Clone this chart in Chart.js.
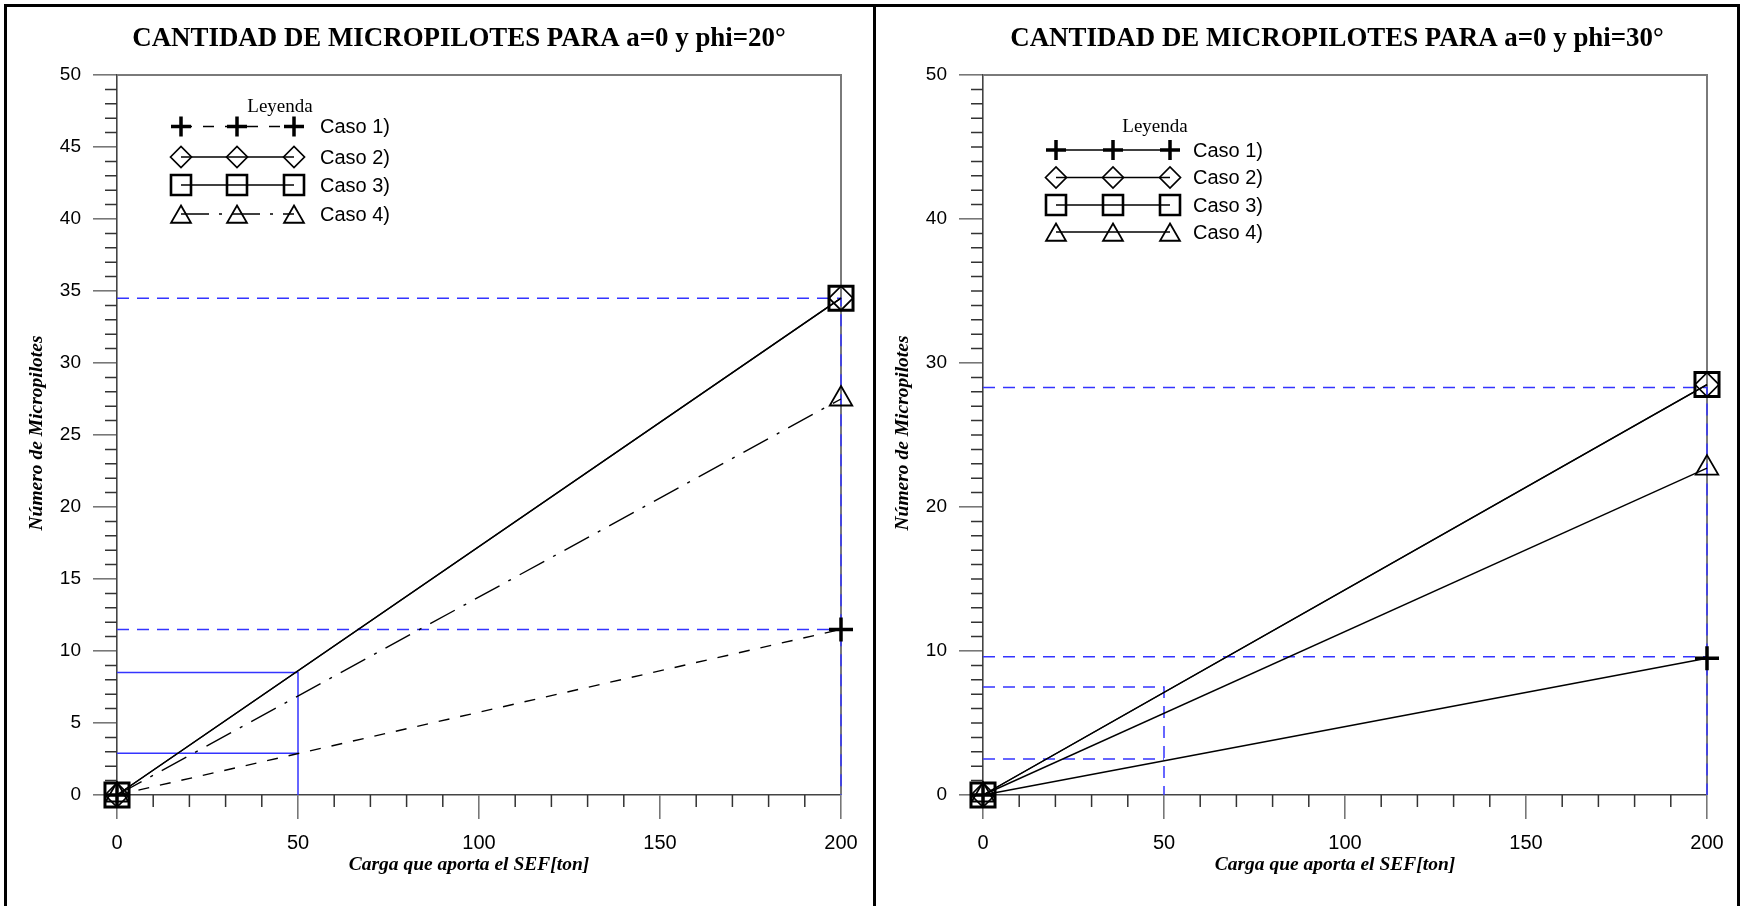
<!DOCTYPE html>
<html lang="es">
<head>
<meta charset="utf-8">
<title>Cantidad de micropilotes</title>
<script src="https://cdn.jsdelivr.net/npm/chart.js@4.4.1/dist/chart.umd.min.js"></script>
<style>
  html, body { margin: 0; padding: 0; background: #fff; width: 1741px; height: 906px; overflow: hidden; }
  .marco { position: absolute; top: 4px; height: 902px; box-sizing: border-box;
           border: 3px solid #000; border-bottom: none; }
  #marco20 { left: 4px; width: 872px; }
  #marco30 { left: 873px; width: 867px; }
  canvas { position: absolute; top: 0; }
  #c20 { left: 0; }
  #c30 { left: 875px; }
</style>
</head>
<body>
<div class="marco" id="marco20"></div>
<div class="marco" id="marco30"></div>
<canvas id="c20" width="875" height="906"></canvas>
<canvas id="c30" width="866" height="906"></canvas>
<script>
// Carga que aporta el SEF [ton]
const carga = [0, 200];

// Número de micropilotes, a=0 y phi=20°
const phi20Caso1 = [0, 11.5];
const phi20Caso2 = [0, 34.5];
const phi20Caso3 = [0, 34.5];
const phi20Caso4 = [0, 27.5];

// Número de micropilotes, a=0 y phi=30°
const phi30Caso1 = [0, 9.5];
const phi30Caso2 = [0, 28.5];
const phi30Caso3 = [0, 28.5];
const phi30Caso4 = [0, 22.7];

// Líneas de lectura (azul): niveles leídos a carga total y a carga parcial
const cargaTotal = 200;
const cargaParcial = 50;
const phi20NivelesTotal = [34.5, 11.5];
const phi20NivelesParcial = [8.5, 2.9];
const phi30NivelesTotal = [28.3, 9.6];
const phi30NivelesParcial = [7.5, 2.5];

// Marcas de los ejes
const ticksCarga = [0, 50, 100, 150, 200];
const ticksPhi20 = [0, 5, 10, 15, 20, 25, 30, 35, 40, 45, 50];
const ticksPhi30 = [0, 10, 20, 30, 40, 50];

const casos = ['Caso 1)', 'Caso 2)', 'Caso 3)', 'Caso 4)'];
const titulo20 = 'CANTIDAD DE MICROPILOTES PARA a=0 y phi=20°';
const titulo30 = 'CANTIDAD DE MICROPILOTES PARA a=0 y phi=30°';
const tituloX = 'Carga que aporta el SEF[ton]';
const tituloY = 'Número de Micropilotes';

const AZUL = '#3434ff';
const SANS = '"Liberation Sans", Arial, sans-serif';
const SERIF = '"Liberation Serif", "Times New Roman", serif';

// Símbolo de cada caso: estilo de punto, radio y grosor en el gráfico y en la leyenda
const simbolos = [
  { estilo: 'cross',    r: 12, ancho: 3.5, rLey: 10,   anchoLey: 3.5, dyLey: 0 },
  { estilo: 'rectRot',  r: 12, ancho: 1.7, rLey: 10.5, anchoLey: 1.7, dyLey: 0 },
  { estilo: 'rect',     r: 17, ancho: 3.0, rLey: 10,   anchoLey: 2.6, dyLey: 0 },
  { estilo: 'triangle', r: 13, ancho: 1.8, rLey: 11.5, anchoLey: 1.8, dyLey: 3 }
];

function puntos(xs, ys) {
  return xs.map((x, i) => ({ x: x, y: ys[i] }));
}

function series(valores, trazos) {
  return valores.map((ys, i) => ({
    label: casos[i],
    data: puntos(carga, ys),
    showLine: true,
    borderColor: '#000',
    borderWidth: 1.4,
    borderDash: trazos[i],
    pointStyle: simbolos[i].estilo,
    pointRadius: simbolos[i].r,
    pointHoverRadius: simbolos[i].r,
    pointBorderWidth: simbolos[i].ancho,
    pointBorderColor: '#000',
    pointBackgroundColor: 'rgba(0,0,0,0)',
    clip: false,
    order: 0
  }));
}

function guias(niveles, hasta, trazo) {
  return niveles.map((v, i) => ({
    label: 'guia',
    data: i === 0
      ? [{ x: 0, y: v }, { x: hasta, y: v }, { x: hasta, y: 0 }]
      : [{ x: 0, y: v }, { x: hasta, y: v }],
    showLine: true,
    borderColor: AZUL,
    borderWidth: 1.5,
    borderDash: trazo,
    pointRadius: 0,
    pointHoverRadius: 0,
    clip: false,
    order: 1
  }));
}

function marcador(ctx, estilo, x, y, r, ancho) {
  ctx.save();
  ctx.setLineDash([]);
  ctx.strokeStyle = '#000';
  ctx.lineWidth = ancho;
  ctx.beginPath();
  if (estilo === 'cross') {
    ctx.moveTo(x - r, y); ctx.lineTo(x + r, y);
    ctx.moveTo(x, y - r); ctx.lineTo(x, y + r);
  } else if (estilo === 'rectRot') {
    ctx.moveTo(x - r, y); ctx.lineTo(x, y - r); ctx.lineTo(x + r, y); ctx.lineTo(x, y + r); ctx.closePath();
  } else if (estilo === 'rect') {
    ctx.rect(x - r, y - r, 2 * r, 2 * r);
  } else if (estilo === 'triangle') {
    ctx.moveTo(x, y - r); ctx.lineTo(x + r * 0.866, y + r / 2); ctx.lineTo(x - r * 0.866, y + r / 2); ctx.closePath();
  }
  ctx.stroke();
  ctx.restore();
}

// Marco del área, marcas menores, títulos y leyenda
const decoracion = {
  id: 'decoracion',
  beforeDatasetsDraw(chart, args, o) {
    const { ctx, chartArea: a, scales: { x, y } } = chart;
    ctx.save();
    ctx.strokeStyle = '#333';
    ctx.lineWidth = 1.5;
    ctx.beginPath();
    for (let k = 0; k * o.menorY <= y.max; k++) {
      const v = k * o.menorY;
      if (v % o.mayorY === 0) continue;
      const py = y.getPixelForValue(v);
      ctx.moveTo(a.left - 12, py); ctx.lineTo(a.left, py);
    }
    for (let k = 0; k * o.menorX <= x.max; k++) {
      const v = k * o.menorX;
      if (v % o.mayorX === 0) continue;
      const px = x.getPixelForValue(v);
      ctx.moveTo(px, a.bottom); ctx.lineTo(px, a.bottom + 12);
    }
    ctx.stroke();
    ctx.strokeStyle = '#7a7a7a';
    ctx.lineWidth = 2;
    ctx.beginPath();
    ctx.moveTo(a.left, a.top); ctx.lineTo(a.right, a.top); ctx.lineTo(a.right, a.bottom);
    ctx.stroke();
    ctx.restore();
  },
  afterDraw(chart, args, o) {
    const { ctx, chartArea: a } = chart;
    ctx.save();
    ctx.fillStyle = '#000';
    ctx.textAlign = 'center';
    ctx.textBaseline = 'alphabetic';
    ctx.font = 'bold 26.9px ' + SERIF;
    ctx.fillText(o.titulo, o.tituloX, 46);

    ctx.textBaseline = 'middle';
    ctx.font = 'italic bold 19.5px ' + SERIF;
    ctx.fillText(tituloX, (a.left + a.right) / 2 - 10, 865);
    ctx.save();
    ctx.translate(o.tituloYX, (a.top + a.bottom) / 2 - 2);
    ctx.rotate(-Math.PI / 2);
    ctx.fillText(tituloY, 0, 0);
    ctx.restore();

    const L = o.leyenda;
    ctx.font = '19px ' + SERIF;
    ctx.fillText('Leyenda', L.centro, L.yTitulo);
    ctx.textAlign = 'left';
    ctx.font = '20px ' + SANS;
    const ds = chart.data.datasets.filter(d => d.label !== 'guia');
    ds.forEach((d, i) => {
      const yy = L.filas[i];
      ctx.save();
      ctx.strokeStyle = '#000';
      ctx.lineWidth = 1.3;
      ctx.setLineDash(d.borderDash || []);
      ctx.beginPath();
      ctx.moveTo(L.xs[0], yy);
      ctx.lineTo(L.xs[L.xs.length - 1], yy);
      ctx.stroke();
      ctx.restore();
      const s = simbolos[i];
      L.xs.forEach(px => marcador(ctx, s.estilo, px, yy + s.dyLey, s.rLey, s.anchoLey));
      ctx.fillText(d.label, L.texto, yy + 1);
    });
    ctx.restore();
  }
};

function grafico(id, cfg) {
  const canvas = document.getElementById(id);
  const W = canvas.width;
  return new Chart(canvas, {
    type: 'scatter',
    data: { datasets: cfg.datasets },
    plugins: [decoracion],
    options: {
      responsive: false,
      animation: false,
      events: [],
      layout: { padding: { left: 0, top: 75, right: W - cfg.derecha, bottom: 0 } },
      plugins: {
        legend: { display: false },
        tooltip: { enabled: false },
        title: { display: false },
        decoracion: {
          titulo: cfg.titulo, tituloX: cfg.tituloX, tituloYX: cfg.tituloYX,
          menorX: 10, mayorX: 50, menorY: 1, mayorY: cfg.mayorY,
          leyenda: cfg.leyenda
        }
      },
      scales: {
        x: {
          type: 'linear', min: 0, max: 200,
          afterBuildTicks: s => { s.ticks = ticksCarga.map(v => ({ value: v })); },
          afterFit: s => { s.height = 111; },
          ticks: { color: '#000', font: { family: SANS, size: 20 }, padding: 12, maxRotation: 0 },
          grid: { drawOnChartArea: false, drawTicks: true, tickLength: 24, color: '#777', lineWidth: 1.6 },
          border: { display: true, color: '#444', width: 1.6 },
          title: { display: false }
        },
        y: {
          type: 'linear', min: 0, max: 50,
          afterBuildTicks: s => { s.ticks = cfg.ticksY.map(v => ({ value: v })); },
          afterFit: s => { s.width = cfg.izquierda; },
          ticks: { color: '#000', font: { family: SANS, size: 19 }, padding: 12 },
          grid: { drawOnChartArea: false, drawTicks: true, tickLength: 24, color: '#777', lineWidth: 1.6 },
          border: { display: true, color: '#444', width: 1.6 },
          title: { display: false }
        }
      }
    }
  });
}

grafico('c20', {
  titulo: titulo20, tituloX: 459, tituloYX: 37,
  izquierda: 117, derecha: 841, mayorY: 5, ticksY: ticksPhi20,
  leyenda: { centro: 280, yTitulo: 107, filas: [126.5, 157, 185, 214], xs: [181, 237, 294], texto: 320 },
  datasets: [
    ...series([phi20Caso1, phi20Caso2, phi20Caso3, phi20Caso4], [[11, 11], [], [], [28, 10, 3, 10]]),
    ...guias(phi20NivelesTotal, cargaTotal, [12, 8]),
    ...guias(phi20NivelesParcial, cargaParcial, [])
  ]
});

grafico('c30', {
  titulo: titulo30, tituloX: 462, tituloYX: 28,
  izquierda: 108, derecha: 832, mayorY: 10, ticksY: ticksPhi30,
  leyenda: { centro: 280, yTitulo: 127, filas: [150, 177.5, 205, 232], xs: [181, 238, 295], texto: 318 },
  datasets: [
    ...series([phi30Caso1, phi30Caso2, phi30Caso3, phi30Caso4], [[], [], [], []]),
    ...guias(phi30NivelesTotal, cargaTotal, [12, 8]),
    ...guias(phi30NivelesParcial, cargaParcial, [12, 8])
  ]
});
</script>
</body>
</html>
